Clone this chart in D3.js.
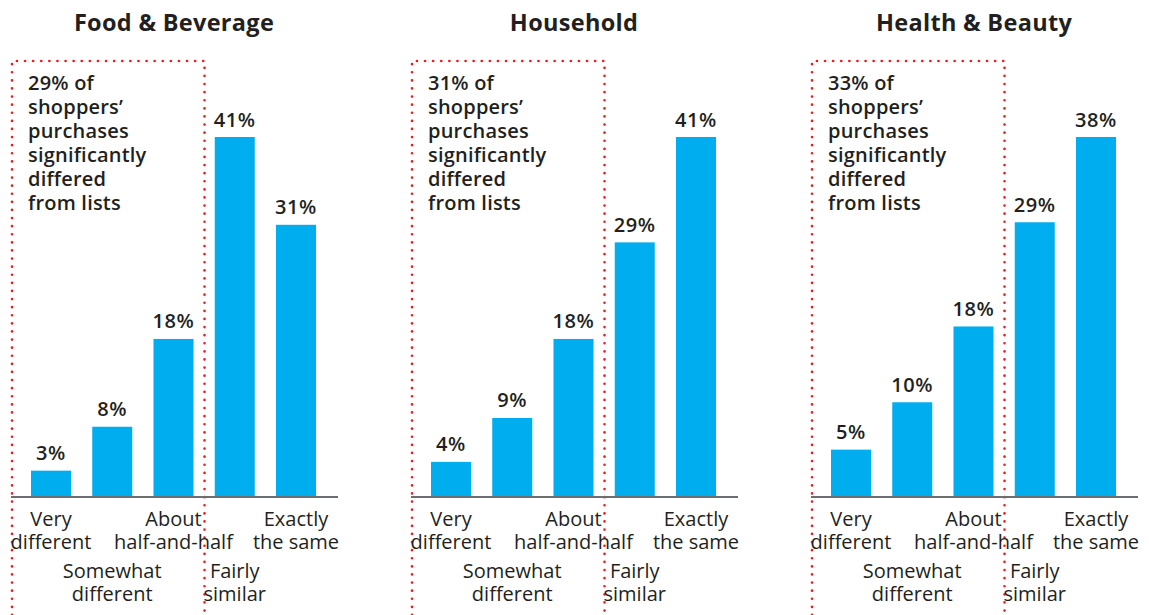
<!DOCTYPE html>
<html>
<head>
<meta charset="utf-8">
<script src="https://cdn.jsdelivr.net/npm/d3@7"></script>
<style>
  body { margin: 0; background: #fff; }
  svg text { font-family: "Open Sans", sans-serif; fill: #231f20; }
</style>
</head>
<body>
<script>
// chart data
const panels = ['Food & Beverage', 'Household', 'Health & Beauty']
const categories = ['Very different', 'Somewhat different', 'About half-and-half', 'Fairly similar', 'Exactly the same']
const categoryLines = [['Very', 'different'], ['Somewhat', 'different'], ['About', 'half-and-half'], ['Fairly', 'similar'], ['Exactly', 'the same']]
const foodValues = [3, 8, 18, 41, 31]
const householdValues = [4, 9, 18, 29, 41]
const healthValues = [5, 10, 18, 29, 38]
const differedShare = [29, 31, 33]
const noteLines = ['of', "shoppers’", 'purchases', 'significantly', 'differed', 'from lists']

const seriesValues = [foodValues, householdValues, healthValues]

// size of svg
const w = 1149
const h = 615
const panelGap = 400
const baseY = 497
const topY = 137

const svg = d3.select('body')
    .append('svg')
    .attr('width', w)
    .attr('height', h)

const xScale = d3.scaleBand()
    .domain(categories)
    .range([31, 316])
    .paddingInner(0.347)
    .paddingOuter(0)

panels.forEach((title, p) => {
    const values = seriesValues[p]
    const g = svg.append('g')
        .attr('transform', `translate(${p * panelGap},0)`)

    // each panel scales to its own biggest bar
    const yScale = d3.scaleLinear()
        .domain([0, d3.max(values)])
        .range([baseY, topY])

    // title
    g.append('text')
        .attr('x', 174)
        .attr('y', 31)
        .attr('text-anchor', 'middle')
        .style('font-size', '23.5px')
        .style('font-weight', 700)
        .style('letter-spacing', '0.3px')
        .text(title)

    // dotted box round the "differed" group
    g.append('path')
        .attr('d', `M12,${h}V61H204.5V${h}`)
        .attr('fill', 'none')
        .attr('stroke', '#ec1c24')
        .attr('stroke-width', 2.6)
        .attr('stroke-linecap', 'round')
        .attr('stroke-dasharray', '0.1 8')

    // note text
    const note = g.append('text')
        .attr('x', 28)
        .attr('y', 90)
        .style('font-size', '20px')
        .style('font-weight', 600)
        .style('letter-spacing', '0.2px')
    note.selectAll('tspan')
        .data([differedShare[p] + '% ' + noteLines[0]].concat(noteLines.slice(1)))
        .enter()
        .append('tspan')
        .attr('x', 28)
        .attr('dy', (d, i) => i === 0 ? 0 : 24)
        .text(d => d)

    // bars
    g.selectAll('rect.bar')
        .data(values)
        .enter()
        .append('rect')
        .attr('class', 'bar')
        .attr('x', (d, i) => xScale(categories[i]))
        .attr('y', d => yScale(d))
        .attr('width', xScale.bandwidth())
        .attr('height', d => baseY - yScale(d))
        .style('fill', '#00aeef')

    // value labels
    g.selectAll('text.value')
        .data(values)
        .enter()
        .append('text')
        .attr('class', 'value')
        .attr('x', (d, i) => xScale(categories[i]) + xScale.bandwidth() / 2)
        .attr('y', d => yScale(d) - 10.5)
        .attr('text-anchor', 'middle')
        .style('font-size', '20px')
        .style('font-weight', 600)
        .style('letter-spacing', '0.6px')
        .text(d => d + '%')

    // baseline
    g.append('line')
        .attr('x1', 11)
        .attr('x2', 338)
        .attr('y1', baseY)
        .attr('y2', baseY)
        .attr('stroke', '#6d6e71')
        .attr('stroke-width', 2)

    // category labels, 2nd and 4th drop a row
    categories.forEach((c, i) => {
        const y0 = i % 2 === 1 ? 578 : 526
        const t = g.append('text')
            .attr('text-anchor', 'middle')
            .style('font-size', '20px')
        categoryLines[i].forEach((line, j) => {
            t.append('tspan')
                .attr('x', xScale(c) + xScale.bandwidth() / 2)
                .attr('y', y0 + j * 22.5)
                .text(line)
        })
    })
})
</script>
</body>
</html>
